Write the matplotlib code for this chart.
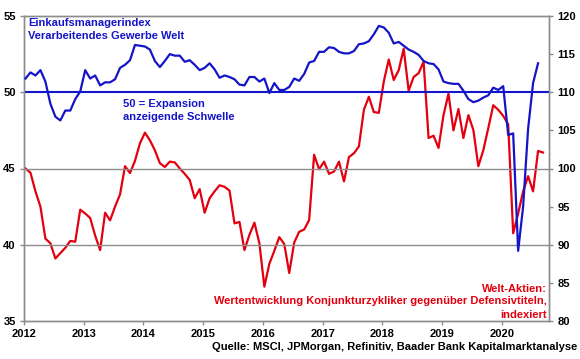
import numpy as np
import matplotlib
matplotlib.use('Agg')
import matplotlib.pyplot as plt

plt.rcParams['font.family'] = ['Liberation Sans', 'DejaVu Sans']
plt.rcParams['font.weight'] = 'bold'

# Einkaufsmanagerindex Welt, monatlich ab Jan 2012 (linke Achse)
pmi = [50.9, 51.3, 51.1, 51.45, 50.7, 49.25, 48.4, 48.15, 48.8, 48.8, 49.55, 50.05,
       51.45, 50.9, 51.1, 50.45, 50.65, 50.65, 50.85, 51.6, 51.8, 52.1, 53.1, 53.05,
       53.0, 52.8, 52.05, 51.65, 52.05, 52.5, 52.4, 52.4, 52.0, 52.1, 51.8, 51.45,
       51.6, 51.9, 51.5, 50.95, 51.1, 51.0, 50.85, 50.5, 50.45, 51.0, 51.0, 50.7,
       50.9, 49.95, 50.6, 50.15, 50.15, 50.35, 50.9, 50.75, 51.2, 51.95, 52.05, 52.65,
       52.65, 52.95, 52.9, 52.65, 52.55, 52.55, 52.7, 53.15, 53.2, 53.35, 53.8, 54.35,
       54.25, 53.9, 53.2, 53.3, 53.05, 52.8, 52.65, 52.45, 52.05, 51.9, 51.85, 51.5,
       50.7, 50.6, 50.55, 50.55, 50.1, 49.55, 49.35, 49.45, 49.65, 49.8, 50.3, 50.15,
       50.4, 47.2, 47.3, 39.6, 42.5, 47.6, 50.6, 51.9]

# Zykliker vs. Defensive, indexiert (rechte Achse)
aktien = [100.0, 99.45, 97.0, 95.0, 90.8, 90.2, 88.2, 88.9, 89.6, 90.5, 90.4, 94.6,
          94.1, 93.5, 91.2, 89.3, 94.2, 93.2, 95.0, 96.6, 100.3, 99.4, 101.0, 103.3,
          104.7, 103.7, 102.4, 100.7, 100.2, 100.9, 100.8, 100.0, 99.3, 98.5, 96.1, 97.3,
          94.2, 96.1, 97.0, 97.8, 97.6, 97.1, 92.8, 93.0, 89.3, 91.3, 92.9, 90.2,
          84.5, 87.5, 89.2, 91.0, 90.1, 86.3, 90.3, 91.7, 92.0, 93.25, 101.8, 99.9,
          100.9, 99.3, 99.6, 100.9, 98.3, 101.5, 102.0, 102.9, 107.7, 109.4, 107.4, 107.3,
          111.4, 114.3, 111.6, 112.9, 115.7, 110.2, 112.0, 112.5, 114.0, 104.0, 104.3, 102.7,
          107.0, 109.8, 105.0, 107.8, 104.0, 107.0, 105.05, 100.3, 102.4, 105.3, 108.3, 107.7,
          106.9, 105.8, 91.5, 94.1, 97.0, 99.0, 97.0, 102.3, 102.1]

jahre = ['2012', '2013', '2014', '2015', '2016', '2017', '2018', '2019', '2020']

blau = '#1414c8'
rot = '#e3000f'
grau = '#8c8c8c'

fig = plt.figure(figsize=(5.8, 3.59), dpi=100)
ax = fig.add_axes([24 / 580, 1 - 321 / 359, 525 / 580, 305 / 359])
ax2 = ax.twinx()

x_pmi = np.arange(len(pmi)) + 0.3
x_akt = np.arange(len(aktien)) + 0.3

# Gitterlinien und 50er-Schwelle
for g in [40, 45]:
    ax.axhline(g, color=grau, lw=1.0, zorder=1)
ax.axhline(50, color=blau, lw=1.5, zorder=2)

ax2.plot(x_akt, aktien, color=rot, lw=1.6, zorder=3)
ax.plot(x_pmi, pmi, color=blau, lw=1.6, zorder=4)

# Blaue Linie über die rote legen
ax.set_zorder(ax2.get_zorder() + 1)
ax.patch.set_visible(False)

ax.set_xlim(0, 105.5)
ax.set_ylim(35, 55)
ax2.set_ylim(80, 120)
ax.set_xticks(np.arange(0, 97, 12))
ax.set_xticklabels(jahre)
ax.set_yticks([35, 40, 45, 50, 55])
ax2.set_yticks(np.arange(80, 121, 5))

for a in (ax, ax2):
    for s in a.spines.values():
        s.set_color(grau)
        s.set_linewidth(1.0)
    a.tick_params(colors=grau, labelcolor='black', labelsize=8, length=3, width=1, pad=3)
for lab in ax.get_xticklabels() + ax.get_yticklabels() + ax2.get_yticklabels():
    lab.set_fontweight('bold')

# Beschriftungen
fs = 8
fig.text(28 / 580, 1 - 23.5 / 359, 'Einkaufsmanagerindex', color=blau, fontsize=fs,
         fontweight='bold', va='center', ha='left')
fig.text(28 / 580, 1 - 36 / 359, 'Verarbeitendes Gewerbe Welt', color=blau, fontsize=fs,
         fontweight='bold', va='center', ha='left')
fig.text(123 / 580, 1 - 104 / 359, '50 = Expansion', color=blau, fontsize=fs,
         fontweight='bold', va='center', ha='left')
fig.text(123 / 580, 1 - 116.5 / 359, 'anzeigende Schwelle', color=blau, fontsize=fs,
         fontweight='bold', va='center', ha='left')

fig.text(547 / 580, 1 - 288.5 / 359, 'Welt-Aktien:', color=rot, fontsize=fs,
         fontweight='bold', va='center', ha='right')
fig.text(547 / 580, 1 - 301.5 / 359, 'Wertentwicklung Konjunkturzykliker gegenüber Defensivtiteln,',
         color=rot, fontsize=fs, fontweight='bold', va='center', ha='right')
fig.text(547 / 580, 1 - 314.5 / 359, 'indexiert', color=rot, fontsize=fs,
         fontweight='bold', va='center', ha='right')

fig.text(577 / 580, 1 - 346.5 / 359,
         'Quelle: MSCI, JPMorgan, Refinitiv, Baader Bank Kapitalmarktanalyse',
         color='black', fontsize=fs, fontweight='bold', va='center', ha='right')

fig.savefig('out.png', dpi=100)
